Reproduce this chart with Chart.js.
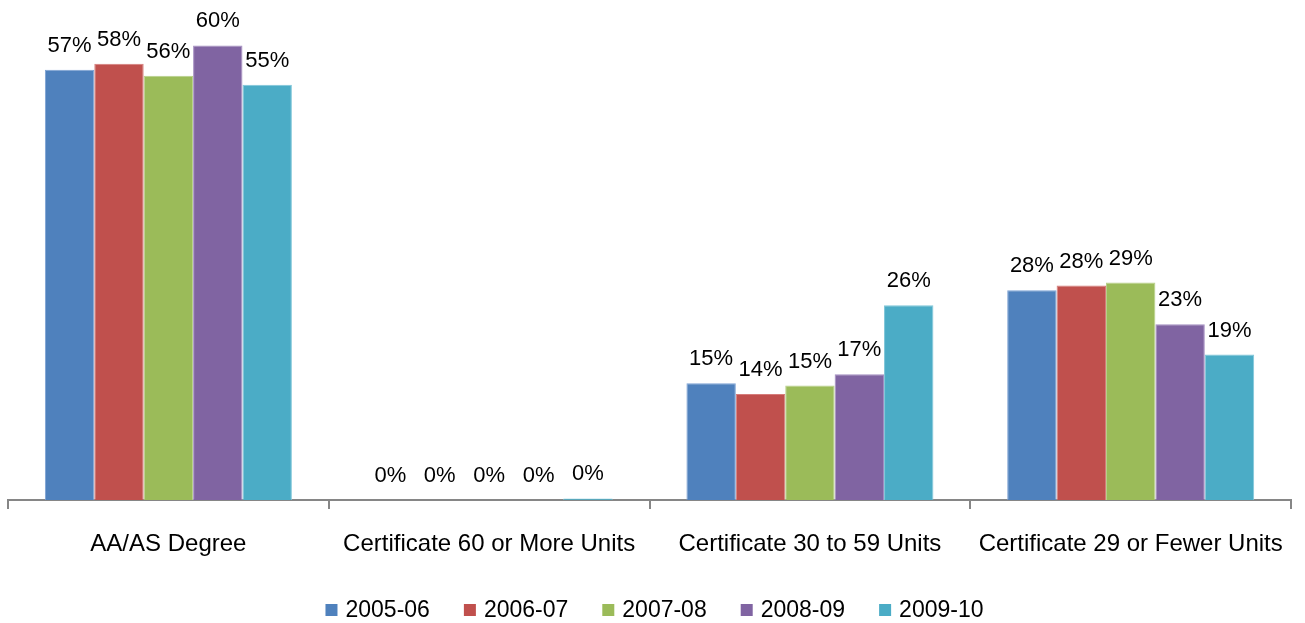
<!DOCTYPE html>
<html>
<head>
<meta charset="utf-8">
<script src="https://cdn.jsdelivr.net/npm/chart.js@4"></script>
<style>
  html, body { margin: 0; padding: 0; background: #fff; }
  #wrap { width: 1305px; height: 623px; }
</style>
</head>
<body>
<div id="wrap"><canvas id="chart"></canvas></div>
<script>
const categories = ["AA/AS Degree", "Certificate 60 or More Units", "Certificate 30 to 59 Units", "Certificate 29 or Fewer Units"];
const years = ["2005-06", "2006-07", "2007-08", "2008-09", "2009-10"];
const s2005 = [56.8, 0, 15.4, 27.7];
const s2006 = [57.6, 0, 14.0, 28.3];
const s2007 = [56.0, 0, 15.1, 28.7];
const s2008 = [60.0, 0, 16.6, 23.2];
const s2009 = [54.8, 0.2, 25.7, 19.2];
const colors = ["#4F81BD", "#C0504D", "#9BBB59", "#8064A2", "#4BACC6"];
const borders = ["#7DA2D4", "#D67C7A", "#B7D08A", "#A48EC2", "#7FC6D9"];

const FONT = "'Liberation Sans', Arial, sans-serif";

// percent labels over each bar
const valueLabels = {
  id: "valueLabels",
  afterDatasetsDraw(chart) {
    const ctx = chart.ctx;
    ctx.save();
    ctx.font = "22px " + FONT;
    ctx.fillStyle = "#000";
    ctx.textAlign = "center";
    ctx.textBaseline = "alphabetic";
    chart.data.datasets.forEach((ds, i) => {
      chart.getDatasetMeta(i).data.forEach((bar, j) => {
        ctx.fillText(Math.round(ds.data[j]) + "%", bar.x, bar.y - 18);
      });
    });
    ctx.restore();
  }
};

// legend drawn by hand so it sits where the original has it
const bottomLegend = {
  id: "bottomLegend",
  afterDraw(chart) {
    const ctx = chart.ctx;
    ctx.save();
    ctx.font = "23px " + FONT;
    ctx.textBaseline = "middle";
    ctx.textAlign = "left";
    const box = 12, gap = 8, spacing = 34;
    const widths = years.map((y) => box + gap + ctx.measureText(y).width);
    const total = widths.reduce((a, b) => a + b, 0) + spacing * (years.length - 1);
    let x = (chart.width - total) / 2 + 2;
    const y = 610;
    years.forEach((yr, i) => {
      ctx.fillStyle = colors[i];
      ctx.fillRect(x, y - box / 2, box, box);
      ctx.fillStyle = "#000";
      ctx.fillText(yr, x + box + gap, y + 1);
      x += widths[i] + spacing;
    });
    ctx.restore();
  }
};

const allSeries = [s2005, s2006, s2007, s2008, s2009];

new Chart(document.getElementById("chart"), {
  type: "bar",
  data: {
    labels: categories,
    datasets: years.map((y, i) => ({
      label: y,
      data: allSeries[i],
      backgroundColor: colors[i],
      borderColor: borders[i],
      borderWidth: 1,
      barPercentage: 1,
      categoryPercentage: 0.77,
    })),
  },
  options: {
    responsive: true,
    maintainAspectRatio: false,
    animation: false,
    layout: { padding: { left: 8, right: 10, top: 0, bottom: 0 } },
    plugins: {
      legend: { display: false },
      tooltip: { enabled: false },
    },
    scales: {
      x: {
        afterFit(scale) {
          scale.height = 123;
        },
        grid: {
          offset: true,
          drawOnChartArea: false,
          drawTicks: true,
          tickLength: 9,
          color: "#868686",
          lineWidth: 2,
        },
        border: { color: "#868686", width: 2 },
        ticks: {
          color: "#000",
          padding: 21,
          font: { family: FONT, size: 24 },
        },
      },
      y: {
        display: false,
        min: 0,
        max: 66,
      },
    },
  },
  plugins: [valueLabels, bottomLegend],
});
</script>
</body>
</html>
